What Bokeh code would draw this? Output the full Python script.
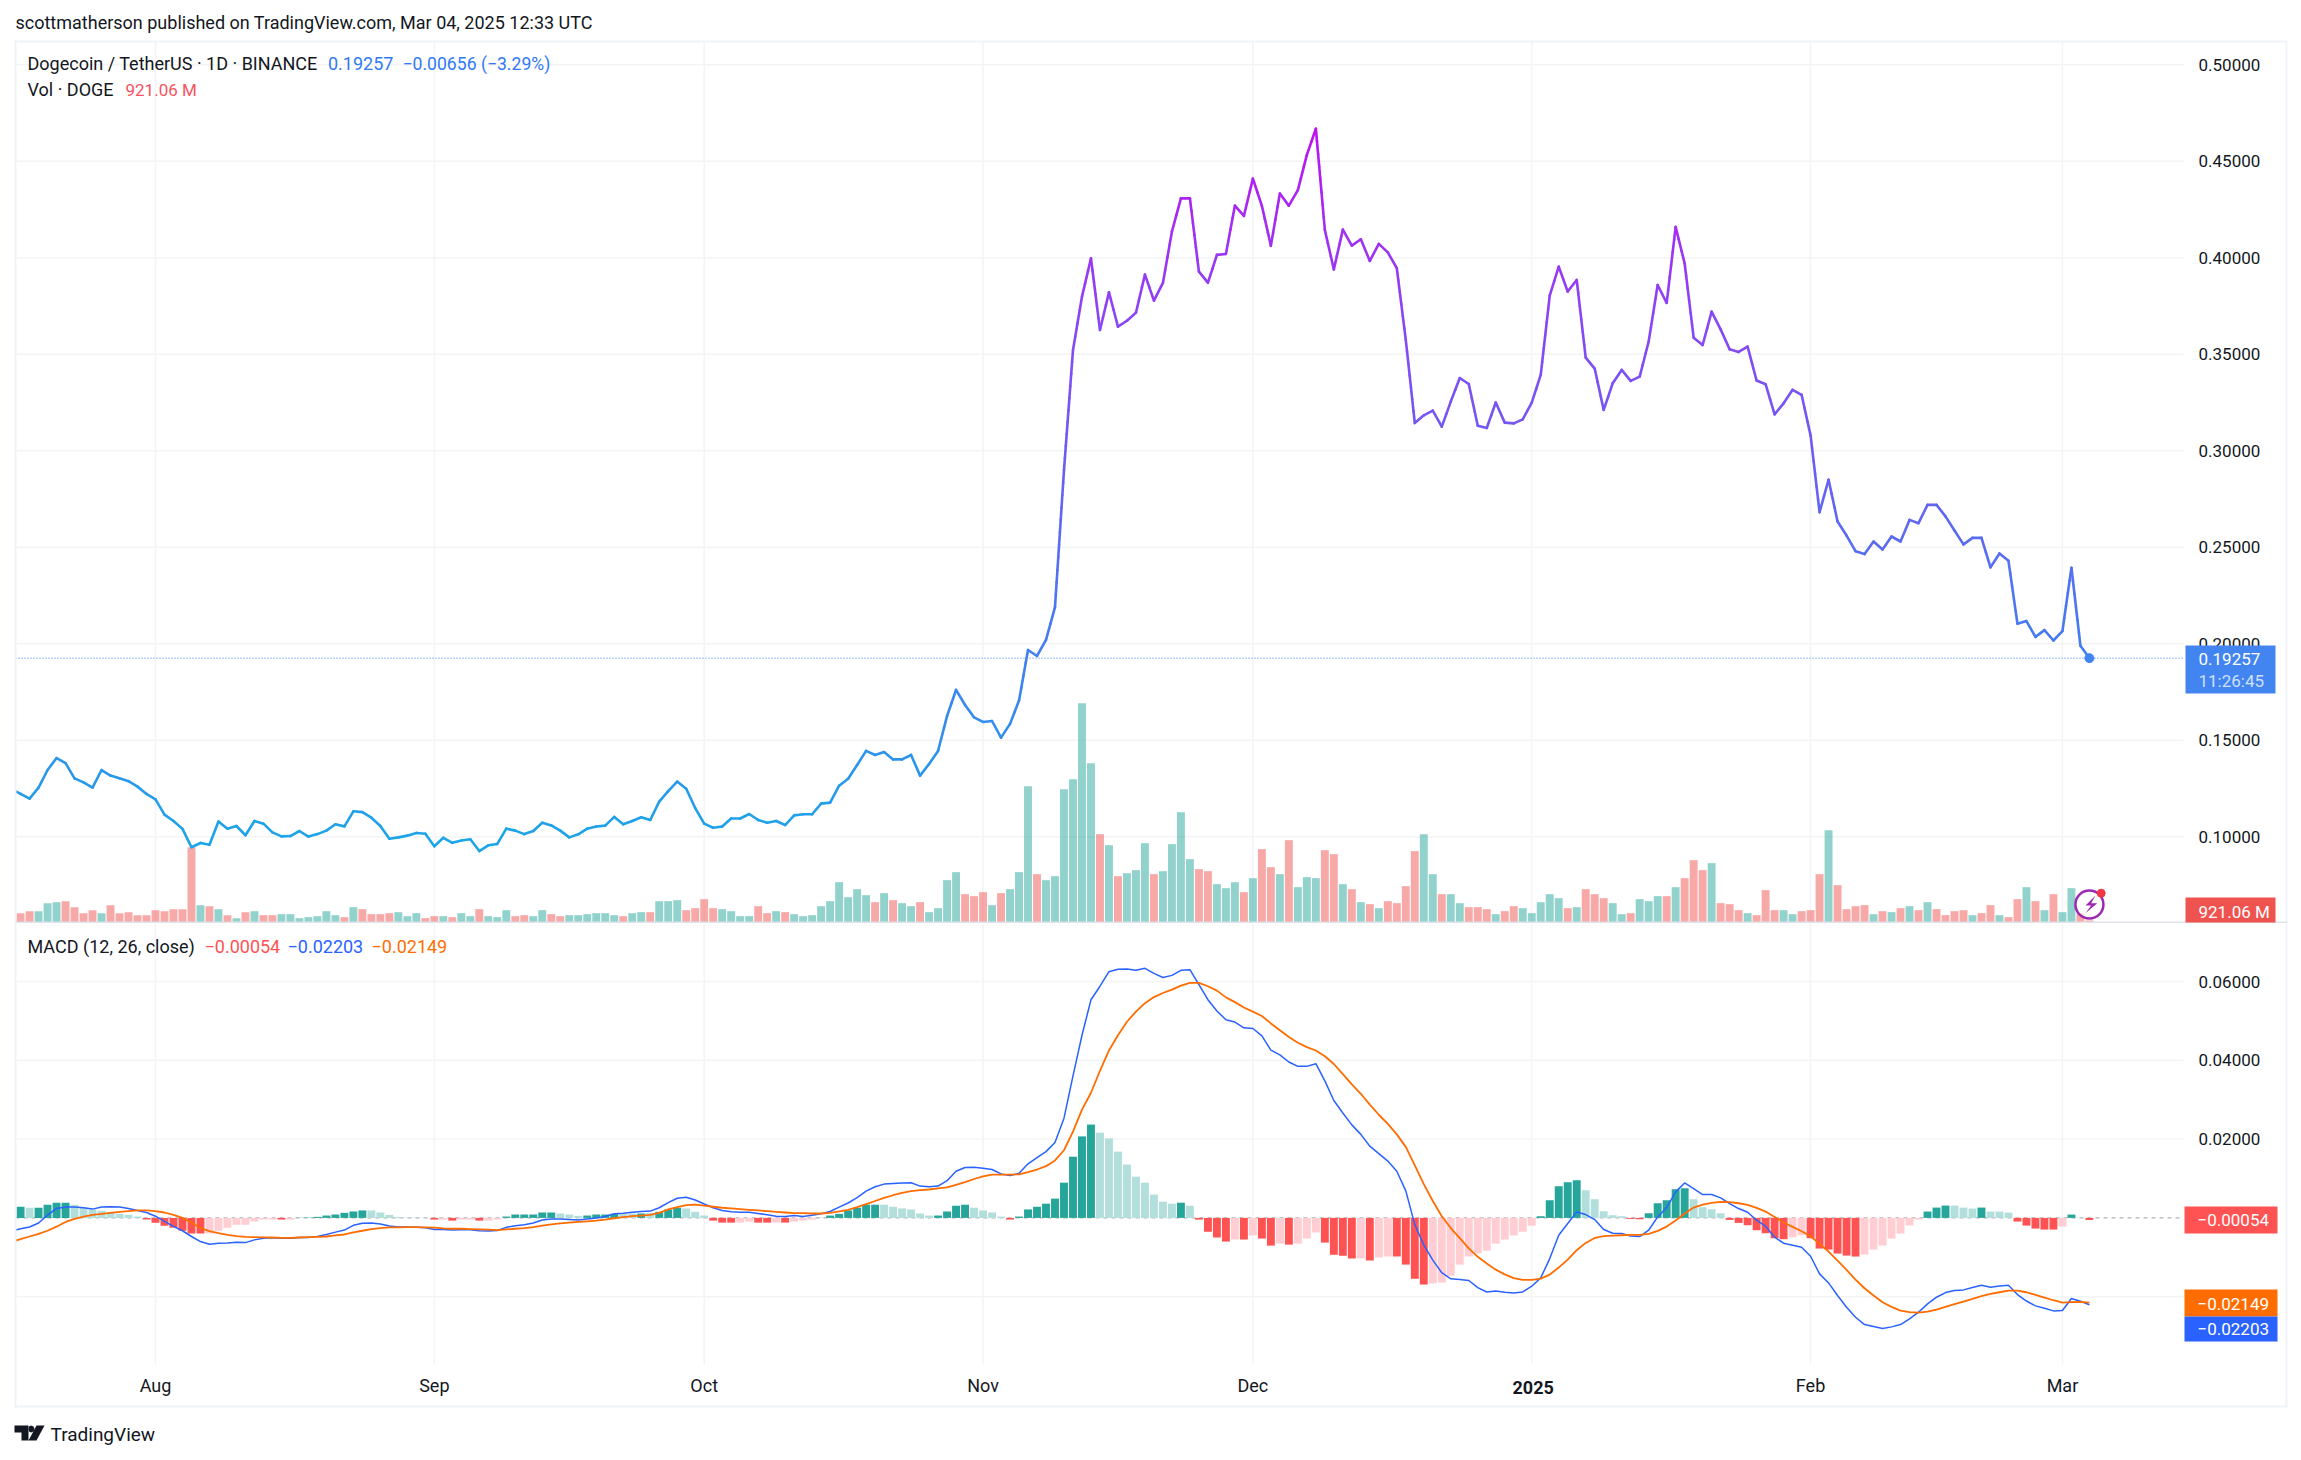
import pandas as pd
from bokeh.embed import file_html
from bokeh.resources import INLINE
from bokeh.layouts import column
from bokeh.plotting import figure
from bokeh.models import (BoxAnnotation, ColumnDataSource, FixedTicker, Label, NumeralTickFormatter,
                          PolyAnnotation, Range1d)
import numpy as np

FIRST_DAY = "2024-07-16"
LAST_DAY = "2025-03-04"
MONTH_TICKS = ["2024-08-01", "2024-09-01", "2024-10-01", "2024-11-01", "2024-12-01", "2025-01-01", "2025-02-01", "2025-03-01"]
MONTH_LABELS = ["Aug", "Sep", "Oct", "Nov", "Dec", "", "Feb", "Mar"]
PRICE_TICKS = [0.10, 0.15, 0.20, 0.25, 0.30, 0.35, 0.40, 0.45, 0.50]
MACD_TICKS = [-0.02, 0.02, 0.04, 0.06]

price = [
    .1247,.1222,.1198,.1255,.1346,.1408,.1382,.1303,.1282,.1255,
    .1346,.1317,.1303,.1288,.1260,.1222,
    .1194,.1115,.1082,.1041,.0946,.0968,.0959,.1079,.1042,.1056,
    .1008,.1082,.1068,.1023,.1002,.1004,.1030,.1001,.1014,.1032,
    .1065,.1054,.1132,.1128,.1099,.1056,.0990,.0997,.1006,.1020,
    .1016,.0951,.0995,.0969,.0981,.0987,.0926,.0956,.0963,.1042,
    .1032,.1014,.1030,.1073,.1059,.1032,.0997,.1013,.1042,.1053,
    .1058,.1103,.1065,.1082,.1101,.1087,.1182,.1237,.1286,.1249,
    .1149,.1068,.1047,.1053,.1095,.1095,.1118,.1087,.1073,.1082,
    .1061,.1111,.1117,.1117,.1172,.1177,.1265,.1301,.1372,.1445,
    .1424,.1439,.1401,.1401,.1424,.1317,.1377,.1445,.1626,.1761,
    .1683,.1619,.1595,.1600,.1514,.1585,.1706,.1968,.1937,.2020,
    .2190,.2900,.3522,.3799,.3997,.3626,.3821,.3643,.3674,.3716,
    .3913,.3778,.3870,.4136,.4308,.4308,.3928,.3871,.4015,.4020,
    .4270,.4217,.4410,.4269,.4063,.4333,.4270,.4351,.4533,.4669,
    .4144,.3940,.4146,.4063,.4096,.3984,.4072,.4028,.3946,.3574,
    .3144,.3184,.3208,.3125,.3255,.3377,.3346,.3130,.3118,.3250,
    .3146,.3142,.3163,.3250,.3393,.3804,.3954,.3825,.3885,.3483,
    .3426,.3212,.3350,.3419,.3362,.3384,.3566,.3859,.3766,.4160,
    .3971,.3586,.3548,.3721,.3629,.3526,.3512,.3540,.3364,.3345,
    .3189,.3246,.3316,.3290,.3080,.2682,.2850,.2634,.2561,.2480,
    .2465,.2530,.2489,.2556,.2530,.2642,.2625,.2720,.2720,.2660,
    .2587,.2515,.2549,.2549,.2396,.2468,.2430,.2104,.2118,.2036,
    .2071,.2017,.2066,.2394,.1990,.19257,
]

# daily volume in billions of DOGE
volume = [
    3.0,3.1,3.7,3.7,6.1,6.4,6.7,4.9,3.1,4.0,
    3.1,5.5,3.1,3.4,2.5,2.5,
    4.0,3.7,4.3,4.3,22.9,5.5,5.2,4.3,2.5,1.6,
    3.4,3.7,2.5,2.5,2.8,2.8,1.6,1.9,2.2,3.7,
    2.5,1.9,4.9,4.3,2.8,2.8,3.1,3.4,2.2,3.1,
    1.6,2.2,2.2,1.9,3.1,2.2,4.3,2.2,1.9,4.0,
    2.2,2.5,2.2,4.0,2.8,2.2,2.5,2.5,2.8,3.1,
    3.1,2.5,2.2,3.1,3.4,3.4,6.7,6.7,7.0,4.0,
    4.6,7.3,4.6,4.3,3.7,2.2,2.2,5.2,3.1,3.7,
    3.4,2.8,2.2,2.5,5.2,6.7,12.4,7.9,10.3,8.5,
    6.4,9.1,7.0,6.1,5.2,6.4,3.4,4.6,13.0,15.4,
    8.8,8.2,9.4,5.5,9.1,10.3,15.4,41.2,14.8,13.0,
    14.2,40.3,43.3,66.1,48.1,26.8,23.5,14.2,15.1,16.0,
    24.1,14.8,15.7,23.8,33.4,19.3,16.3,15.7,11.8,10.6,
    12.4,9.4,13.6,22.3,16.9,14.8,25.0,10.9,13.9,13.6,
    22.0,20.8,11.8,10.3,6.4,5.8,4.6,6.7,6.1,11.2,
    21.7,26.8,14.8,8.8,8.8,6.1,4.9,4.9,4.3,2.8,
    3.7,5.2,4.6,3.1,6.4,8.8,7.6,4.6,4.9,10.3,
    8.8,7.6,6.1,2.8,3.1,7.3,6.7,8.2,8.2,10.9,
    13.6,19.0,16.0,18.1,6.1,5.8,4.0,3.1,2.5,10.0,
    4.0,4.0,2.8,3.7,4.0,14.8,28.0,11.5,4.3,5.2,
    5.5,2.8,3.7,3.4,4.6,5.2,4.0,6.4,4.3,2.5,
    3.7,4.0,2.5,3.1,5.5,2.5,1.9,7.3,10.9,6.7,
    4.0,8.8,3.4,10.6,3.0,0.92,
]
volume_side = ("R" "RRGGGRRRRGRRRRR" "RRRRRGRGRG" "RGRRGGGGGG" "GRGRRRRGGG" "RRGRGGRGGG" "RRGGRRGGGG"
               "GGRGGRGGGR" "RRRGGGGRRG" "RGGGGGGGGG" "RGRGGRGGGG" "RRRGRGGGRG" "GGGGGRGRGG" "GRGGGGRRGG"
               "GRGRRGRGGG" "RRGRGRGRRR" "RGGRGGRRRG" "RRGGGGGRGR" "RRGGRGGGRG" "RRRGRRRGRR" "RGGRRRGRRR"
               "RGRGRGRGRR" "RRGRRGRRGR" "GRGGRR")

macd_line = [
    -.00335,-.00275,-.00232,-.00129,.00069,.0024,.00275,.00275,.00258,.00223,
    .00275,.00283,.00275,.0024,.00189,.00137,
    .00043,-.00086,-.00215,-.00326,-.00472,-.00601,-.0067,-.00644,-.00635,-.00618,
    -.00627,-.00558,-.00515,-.00506,-.00515,-.00515,-.00498,-.00498,-.00472,-.00421,
    -.00361,-.00309,-.00189,-.00137,-.00129,-.00155,-.00206,-.00232,-.00232,-.0024,
    -.00249,-.00292,-.00292,-.00309,-.003,-.003,-.00326,-.00335,-.00318,-.0024,
    -.00197,-.00172,-.00129,-.00052,-.00026,-.00026,-.00043,-.00052,-.00026,0,
    .00034,.00103,.0012,.00146,.00163,.00172,.00258,.00386,.00498,.00524,
    .00455,.00352,.00258,.00189,.00155,.00146,.00146,.00112,.00077,.00043,
    .00034,.0006,.00034,.00069,.00103,.00163,.00275,.00378,.00515,.00678,
    .0079,.00858,.00876,.00884,.00893,.00807,.0079,.00807,.00944,.01185,
    .01279,.01288,.01262,.01228,.01116,.01073,.01133,.01373,.01528,.01682,
    .01914,.02532,.03605,.04635,.05537,.0588,.06249,.06309,.06318,.06283,
    .06335,.06206,.06103,.06155,.06283,.06301,.05923,.05537,.05253,.0503,
    .0497,.04824,.04807,.04618,.04258,.04138,.03957,.03846,.03846,.03914,
    .03477,.02979,.02661,.02361,.0212,.0182,.01631,.01442,.01185,.00687,
    -.00172,-.00687,-.01073,-.01391,-.01545,-.01562,-.01588,-.01768,-.0188,-.01854,
    -.01888,-.01906,-.0188,-.01734,-.01523,-.01032,-.0044,-.00144,.00152,.00085,
    -.00042,-.00296,-.00389,-.00398,-.00457,-.00474,-.00313,.00025,.00262,.0066,
    .00888,.00744,.00592,.00592,.00508,.00364,.00237,.00144,-.00059,-.00212,
    -.00491,-.00643,-.00694,-.00744,-.00973,-.01421,-.0165,-.01971,-.02267,-.02521,
    -.02707,-.02758,-.02809,-.02766,-.02707,-.02563,-.02394,-.02183,-.02013,-.01895,
    -.01844,-.01827,-.01768,-.01709,-.0176,-.01726,-.01709,-.01946,-.0211,-.02233,
    -.02293,-.0236,-.02352,-.02047,-.02115,-.02203,
]

signal_line = [
    -.00609,-.00541,-.00472,-.00403,-.00326,-.00223,-.00103,-.00026,.00034,.00077,
    .00103,.00129,.00155,.00172,.00189,.00189,
    .00172,.00137,.00077,0,-.0012,-.00258,-.00335,-.00386,-.00429,-.00464,
    -.00481,-.00489,-.00494,-.00498,-.00506,-.00506,-.00498,-.00489,-.00481,-.00472,
    -.00446,-.00421,-.00369,-.00326,-.00283,-.00258,-.0024,-.0024,-.00232,-.00232,
    -.0024,-.00249,-.00266,-.00275,-.00275,-.00283,-.00292,-.003,-.00309,-.00292,
    -.00275,-.00258,-.00232,-.00197,-.00163,-.00137,-.0012,-.00103,-.00086,-.00069,
    -.00043,-.00009,.00017,.00043,.0006,.00077,.00129,.00215,.00275,.00326,
    .00335,.00309,.00283,.00258,.0024,.00223,.00206,.00189,.00172,.00155,
    .00137,.0012,.0012,.00112,.00112,.00129,.00163,.00206,.00275,.00352,
    .00429,.00506,.00575,.00635,.00678,.00704,.00721,.00747,.00773,.00841,
    .0091,.00987,.01056,.01099,.01099,.01099,.01107,.01159,.01228,.01313,
    .01459,.01717,.02189,.02747,.03176,.03734,.04249,.04635,.04979,.05236,
    .05451,.05605,.05708,.05794,.05897,.05966,.05966,.0588,.05768,.05597,
    .05477,.05339,.05236,.05125,.04936,.04764,.04592,.04447,.04335,.04249,
    .04103,.03906,.03648,.03391,.0315,.02876,.02618,.02386,.0212,.01803,
    .01331,.00858,.00429,.00043,-.00258,-.00515,-.00773,-.00987,-.01159,-.01313,
    -.01434,-.01528,-.01571,-.01574,-.0154,-.01438,-.01261,-.01058,-.00821,-.00635,
    -.00508,-.00465,-.00448,-.0044,-.00431,-.00431,-.00406,-.0033,-.0022,-.00068,
    .0011,.00262,.00338,.00381,.00406,.00398,.00372,.0033,.00254,.00161,
    .00025,-.00118,-.00228,-.00338,-.00465,-.0066,-.00854,-.01083,-.0132,-.01565,
    -.01785,-.01971,-.0214,-.02259,-.02352,-.02394,-.02403,-.02377,-.02327,-.02259,
    -.02191,-.02123,-.02056,-.01988,-.01929,-.01887,-.01844,-.01844,-.01887,-.01954,
    -.02022,-.0209,-.02149,-.0214,-.02132,-.02149,
]

histogram = [
    .0028,.00283,.00258,.00258,.00335,.00386,.00386,.00335,.00258,.00206,
    .0018,.00137,.00103,.00077,.00034,-.00043,
    -.0012,-.00197,-.00249,-.00326,-.00395,-.00395,-.00395,-.00326,-.00249,-.00172,
    -.00172,-.00094,-.00043,-.00043,-.00043,-.00043,.00005,.00009,.00026,.0006,
    .00086,.00129,.00163,.00189,.00189,.00137,.00077,.00026,.00009,.00009,
    .00004,-.00043,-.00043,-.00069,-.00043,-.00043,-.00069,-.00069,-.00043,.00034,
    .00086,.00086,.00086,.00137,.00137,.00112,.00086,.00051,.0006,.00086,
    .00086,.00103,.00112,.00112,.00112,.00129,.00154,.00214,.00258,.0024,
    .00154,.0006,-.00069,-.0012,-.0012,-.0012,-.00094,-.0012,-.0012,-.0012,
    -.0012,-.00094,-.00069,-.00043,.00004,.0006,.00103,.00189,.00258,.00335,
    .00335,.00335,.00283,.0024,.00215,.00112,.0006,.0006,.00163,.00309,
    .00335,.00258,.00189,.00137,.00034,-.00043,.00034,.00215,.00283,.00361,
    .00489,.00893,.01554,.02069,.02369,.02163,.02017,.01682,.01356,.01047,
    .00893,.00592,.00412,.00361,.00386,.00309,-.00043,-.00352,-.00498,-.00601,
    -.00549,-.00549,-.00446,-.00524,-.00704,-.00652,-.00678,-.00652,-.00524,-.00369,
    -.00627,-.00936,-.00961,-.0103,-.0103,-.01082,-.01004,-.00979,-.00979,-.01185,
    -.01545,-.01691,-.01665,-.0164,-.01468,-.01185,-.00979,-.00901,-.00833,-.00652,
    -.00549,-.00446,-.00352,-.00197,.00042,.00448,.00804,.00905,.00956,.00702,
    .00474,.00169,.00068,.00042,-.00025,-.00034,.00118,.00372,.00448,.00728,
    .00753,.00474,.00271,.0022,.00118,-.00051,-.00127,-.00186,-.00313,-.00389,
    -.00516,-.00541,-.00491,-.0044,-.00516,-.00778,-.00804,-.00905,-.00956,-.00981,
    -.00931,-.00804,-.00702,-.00525,-.00398,-.00195,-.00042,.00161,.00262,.00313,
    .00313,.00262,.00237,.00262,.00161,.00161,.00135,-.00093,-.00195,-.00271,
    -.00296,-.00296,-.0022,.00085,.00008,-.00054,
]
# D rising above zero, L falling above zero, R falling below zero, P rising below zero
histogram_state = ("D" "DLDDDDLLLLLLLLR" "RRRRRRPPPP" "PPPPRPDDDD" "DDDDLLLLLL" "LRPRPPRPPD" "DDDDDLLLDD"
                   "DDLLDLDDDL" "LLRRRPPRRP" "RPPPDDDDDD" "DLLLLLLDDD" "DLLLLRDDDD" "DDDDDLLLLL" "LLLLDLRRRR"
                   "PRPRRPRPPP" "RRRRPRPPRR" "RRPPPPPPPP" "PPPPDDDDDL" "LLLLRRDDDD" "DLLLLRRRRR" "RRPPRRRRRR"
                   "PPPPPPPDDD" "LLLDLLLRRR" "RRPDLR")

FONT = "Roboto"
TEXT_SIZE = "18px"
TICK_SIZE = "17px"
INK = "#131722"
GRID = "#F3F4F6"
EDGE = "#F0F3FA"
SEP = "#E0E3EB"
UP, DOWN = "#26A69A", "#EF5350"
HIST_COLOR = {"D": "#26A69A", "L": "#B2DFDB", "R": "#FF5252", "P": "#FFCDD2"}
BLUE, ORANGE = "#2962FF", "#FF6D00"
LAST_BLUE = "#4285F0"

# page geometry of the panes; each frame spans its whole canvas so that marks may sit outside the panes
LEFT, RIGHT, PAGE_W = 15, 2183, 2292
TOP, SPLIT, BOTTOM, PAGE_H = 41, 923, 1364, 1452

def ms(day):
    return int(pd.Timestamp(day).value // 10**6)

days = pd.date_range(FIRST_DAY, LAST_DAY, freq="D")
x = [ms(d) for d in days]
DAY = 86400000
x_aug = ms("2024-08-01")
PX_DAY = 8.995
AUG_PX = 155.0

def x_at(px):
    return x_aug + (px - AUG_PX) / PX_DAY * DAY

x_range = Range1d(x_at(0), x_at(PAGE_W))
ticks = [ms(t) for t in MONTH_TICKS]

def base(height, y_range):
    f = figure(frame_width=PAGE_W, frame_height=height, x_range=x_range, y_range=y_range,
               y_axis_location="right", toolbar_location=None, tools="", output_backend="svg",
               min_border_left=0, min_border_right=0, min_border_top=0, min_border_bottom=0,
               background_fill_color="white", border_fill_color="white")
    f.outline_line_color = None
    f.grid.visible = False
    ax = f.yaxis[0]
    ax.fixed_location = x_at(RIGHT)
    ax.axis_line_color = None
    ax.major_tick_line_color = None
    ax.minor_tick_line_color = None
    ax.major_label_standoff = 9
    ax.major_label_text_font = FONT
    ax.major_label_text_font_size = TICK_SIZE
    ax.major_label_text_color = INK
    ax.formatter = NumeralTickFormatter(format="0.00000")
    return f

# ---------- price and volume pane
PX_PRICE = 1930.0
def price_at(py):
    return 0.5 + (64.3 - py) / PX_PRICE

p1 = base(SPLIT, Range1d(price_at(SPLIT), price_at(0)))
p1.yaxis[0].ticker = FixedTicker(ticks=PRICE_TICKS)
p1.xaxis.visible = False
VOL_PER_PX = 0.3
p1.extra_y_ranges = {"vol": Range1d(0, SPLIT * VOL_PER_PX)}

p1.segment([x_at(LEFT)] * len(PRICE_TICKS), PRICE_TICKS, [x_at(RIGHT)] * len(PRICE_TICKS), PRICE_TICKS,
           line_color=GRID, line_width=1.5, level="underlay")
p1.segment(ticks, [price_at(TOP)] * len(ticks), ticks, [price_at(SPLIT)] * len(ticks),
           line_color=GRID, line_width=1.5, level="underlay")

vol_src = ColumnDataSource(dict(x=x, top=volume, color=[UP if s == "G" else DOWN for s in volume_side]))
p1.vbar(x="x", top="top", bottom=0, width=0.88 * DAY, source=vol_src, y_range_name="vol",
        fill_color="color", line_color=None, fill_alpha=0.5)

p1.segment([x_at(LEFT)], [price[-1]], [x_at(RIGHT)], [price[-1]], line_color="#2E7CF0", line_width=1, line_dash="1 2")

stops_p = [0.09, 0.19, 0.30, 0.37, 0.47]
stops_rgb = np.array([[0x19, 0xA8, 0xE8], [0x40, 0x80, 0xF0], [0x6E, 0x5C, 0xF2], [0x8A, 0x45, 0xF5], [0xC0, 0x10, 0xF0]])

def grad(v):
    c = [int(round(np.interp(v, stops_p, stops_rgb[:, i]))) for i in range(3)]
    return "#%02X%02X%02X" % tuple(c)

sx0, sy0, sx1, sy1, sc = [], [], [], [], []
for i in range(len(price) - 1):
    n = max(1, int(abs(price[i + 1] - price[i]) / 0.006))
    xs = np.linspace(x[i], x[i + 1], n + 1)
    ys = np.linspace(price[i], price[i + 1], n + 1)
    for j in range(n):
        sx0.append(xs[j]); sx1.append(xs[j + 1]); sy0.append(ys[j]); sy1.append(ys[j + 1])
        sc.append(grad((ys[j] + ys[j + 1]) / 2))
p1.segment(sx0, sy0, sx1, sy1, line_color=sc, line_width=2.6, line_cap="round")
p1.scatter([x[-1]], [price[-1]], size=9, marker="circle", fill_color=LAST_BLUE, line_color=LAST_BLUE)

def box(f, h, x0_, x1_, y0_, y1_, color):
    f.add_layout(BoxAnnotation(left=x0_, right=x1_, top=h - y0_, bottom=h - y1_,
                               left_units="screen", right_units="screen", top_units="screen", bottom_units="screen",
                               fill_color=color, fill_alpha=1, line_alpha=0, level="overlay"))

def text(f, h, xp, yp, s, color=INK, size=TEXT_SIZE, align="left", style="normal"):
    f.add_layout(Label(x=xp, y=h - yp, x_units="screen", y_units="screen", text=s, text_color=color,
                       text_font=FONT, text_font_size=size, text_align=align, text_baseline="middle",
                       text_font_style=style, level="overlay"))

def poly(f, h, pts, color):
    f.add_layout(PolyAnnotation(xs=[a for a, b in pts], ys=[h - b for a, b in pts],
                                xs_units="screen", ys_units="screen", fill_color=color, fill_alpha=1,
                                line_alpha=0, level="overlay"))

# mask of the strip left of the pane, then the frame lines
box(p1, SPLIT, 0, LEFT, TOP, SPLIT, "#FFFFFF")
box(p1, SPLIT, LEFT - 1, 2287, TOP - 1, TOP + 1, EDGE)
box(p1, SPLIT, LEFT - 1, LEFT + 1, TOP, SPLIT, EDGE)
box(p1, SPLIT, 2285, 2287, TOP, SPLIT, EDGE)
box(p1, SPLIT, LEFT, 2287, SPLIT - 2, SPLIT, SEP)

# price tags
box(p1, SPLIT, 2185, 2275, 645, 693, LAST_BLUE)
text(p1, SPLIT, 2198, 658, "0.19257", "#FFFFFF", TICK_SIZE)
text(p1, SPLIT, 2198, 680, "11:26:45", "#D0E0FB", TICK_SIZE)
box(p1, SPLIT, 2185, 2275, 897, 922, DOWN)
text(p1, SPLIT, 2198, 911, "921.06 M", "#FFFFFF", TICK_SIZE)

# header and legend
text(p1, SPLIT, 15, 22, "scottmatherson published on TradingView.com, Mar 04, 2025 12:33 UTC")
text(p1, SPLIT, 27, 63, "Dogecoin / TetherUS · 1D · BINANCE")
text(p1, SPLIT, 327.5, 63, "0.19257", "#3179F5")
text(p1, SPLIT, 402, 63, "−0.00656 (−3.29%)", "#3179F5", "17.6px")
text(p1, SPLIT, 27, 89, "Vol · DOGE")
text(p1, SPLIT, 125, 89, "921.06 M", "#F7525F", "17px")

# lightning badge
p1.scatter([x[-1]], [(SPLIT - 904) * VOL_PER_PX], size=28, marker="circle", y_range_name="vol",
           fill_color="white", fill_alpha=0.6, line_color="#9C27B0", line_width=2.5)
poly(p1, SPLIT, [(2095, 895), (2085, 905), (2090.7, 905), (2085, 912.7), (2096.7, 902.7), (2090.7, 902.7)], "#9C27B0")
p1.scatter([x_at(2100.7)], [(SPLIT - 892.7) * VOL_PER_PX], size=8, marker="circle", y_range_name="vol",
           fill_color="#F23645", line_color="#F23645")

# ---------- MACD pane
ZERO_PX = 1217.4
PX_UNIT = 78.8 / 0.02
def macd_at(py):
    return (ZERO_PX - py) / PX_UNIT

H2 = PAGE_H - SPLIT
p2 = base(H2, Range1d(macd_at(PAGE_H), macd_at(SPLIT)))
p2.yaxis[0].ticker = FixedTicker(ticks=MACD_TICKS)
xa = p2.xaxis[0]
xa.fixed_location = macd_at(BOTTOM)
xa.ticker = FixedTicker(ticks=ticks)
xa.major_label_overrides = dict(zip(ticks, MONTH_LABELS))
xa.axis_line_color = None
xa.major_tick_line_color = None
xa.minor_tick_line_color = None
xa.major_label_standoff = 4
xa.major_label_text_font = FONT
xa.major_label_text_font_size = TEXT_SIZE
xa.major_label_text_color = INK

p2.segment([x_at(LEFT)] * len(MACD_TICKS), MACD_TICKS, [x_at(RIGHT)] * len(MACD_TICKS), MACD_TICKS,
           line_color=GRID, line_width=1.5, level="underlay")
p2.segment(ticks, [macd_at(SPLIT)] * len(ticks), ticks, [macd_at(BOTTOM)] * len(ticks),
           line_color=GRID, line_width=1.5, level="underlay")
p2.segment([x_at(LEFT)], [0], [x_at(RIGHT)], [0], line_color="#787B86", line_width=1, line_dash="4 4",
           line_alpha=0.7, level="underlay")

hist_src = ColumnDataSource(dict(x=x, top=histogram, color=[HIST_COLOR[s] for s in histogram_state]))
p2.vbar(x="x", top="top", bottom=0, width=0.88 * DAY, source=hist_src, fill_color="color", line_color=None)
p2.line(x, macd_line, line_color=BLUE, line_width=1.5, line_join="round")
p2.line(x, signal_line, line_color=ORANGE, line_width=1.8, line_join="round")

box(p2, PAGE_H, 0, LEFT, SPLIT, BOTTOM, "#FFFFFF")
box(p2, PAGE_H, LEFT - 1, LEFT + 1, SPLIT, 1407, EDGE)
box(p2, PAGE_H, 2285, 2287, SPLIT, 1407, EDGE)
box(p2, PAGE_H, LEFT - 1, 2287, 1405, 1407, EDGE)

box(p2, PAGE_H, 2184, 2277, 1206, 1233, "#FF5252")
text(p2, PAGE_H, 2197, 1219.5, "−0.00054", "#FFFFFF", TICK_SIZE)
box(p2, PAGE_H, 2184, 2277, 1289, 1316, ORANGE)
text(p2, PAGE_H, 2197, 1303, "−0.02149", "#FFFFFF", TICK_SIZE)
box(p2, PAGE_H, 2184, 2277, 1316, 1341, BLUE)
text(p2, PAGE_H, 2197, 1328, "−0.02203", "#FFFFFF", TICK_SIZE)

text(p2, PAGE_H, 27, 946, "MACD (12, 26, close)")
text(p2, PAGE_H, 204, 946, "−0.00054", "#FF5252")
text(p2, PAGE_H, 287, 946, "−0.02203", BLUE)
text(p2, PAGE_H, 371, 946, "−0.02149", ORANGE)

text(p2, PAGE_H, 1532.7, 1387, "2025", INK, TEXT_SIZE, "center", "bold")

# TradingView mark and name
poly(p2, PAGE_H, [(14, 1425), (28, 1425), (28, 1440), (21, 1440), (21, 1432), (14, 1432)], INK)
poly(p2, PAGE_H, [(36, 1425), (44, 1425), (36, 1440), (28, 1440)], INK)
poly(p2, PAGE_H, [(30.5, 1425), (33, 1426), (34, 1428.5), (33, 1431), (30.5, 1432), (28.5, 1431), (28, 1428.5), (28.5, 1426)], INK)
text(p2, PAGE_H, 50, 1434, "TradingView", INK, "19px")

page = column(p1, p2, spacing=0)
open("out.html", "w").write(file_html(page, INLINE))
